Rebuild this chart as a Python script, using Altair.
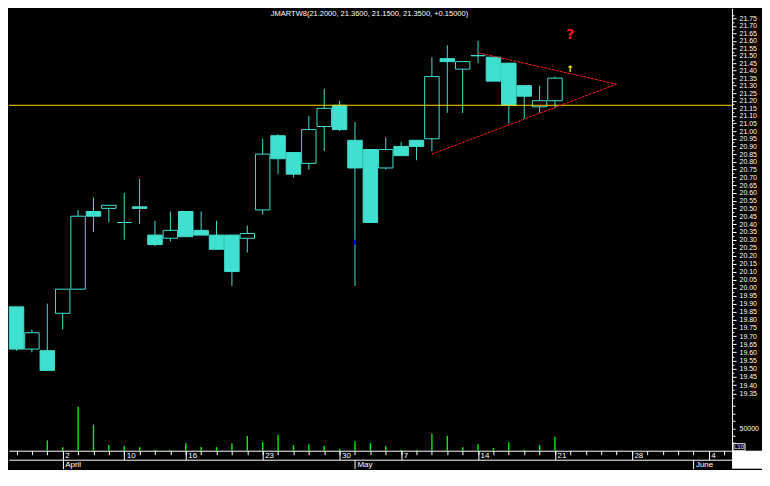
import altair as alt
import pandas as pd

TURQ = "#40e0d0"
GREEN = "#00ee00"
YELLOW = "#ffd700"
RED = "#ff1a1a"
FONT = "Liberation Sans"

title_text = "JMARTW8(21.2000, 21.3600, 21.1500, 21.3500, +0.15000)"

# trading-day index (0 = 28 Mar) and OHLC / volume
day_index = list(range(36))
opens  = [19.88, 19.62, 19.61, 19.84, 19.99, 20.48, 20.50, 20.41, 20.51, 20.33,
          20.31, 20.48, 20.36, 20.33, 20.33, 20.31, 20.49, 20.97, 20.86, 20.79,
          21.03, 21.17, 20.94, 20.88, 20.76, 20.90, 20.94, 20.95, 21.48, 21.41,
          21.50, 21.49, 21.45, 21.30, 21.16, 21.20]
highs  = [19.88, 19.74, 19.90, 19.99, 20.49, 20.57, 20.52, 20.60, 20.69, 20.42,
          20.48, 20.48, 20.48, 20.42, 20.33, 20.39, 20.95, 20.98, 20.86, 21.10,
          21.28, 21.20, 21.06, 20.88, 20.96, 20.93, 20.94, 21.49, 21.57, 21.46,
          21.60, 21.49, 21.45, 21.30, 21.30, 21.36]
lows   = [19.61, 19.60, 19.49, 19.74, 19.99, 20.35, 20.41, 20.30, 20.40, 20.26,
          20.29, 20.32, 20.33, 20.24, 20.01, 20.22, 20.46, 20.72, 20.70, 20.75,
          20.87, 21.00, 20.01, 20.41, 20.75, 20.84, 20.81, 20.87, 21.12, 21.12,
          21.45, 21.33, 21.05, 21.08, 21.12, 21.15]
closes = [19.62, 19.72, 19.49, 19.99, 20.45, 20.45, 20.52, 20.41, 20.50, 20.27,
          20.36, 20.32, 20.33, 20.24, 20.10, 20.34, 20.85, 20.82, 20.72, 21.01,
          21.15, 21.01, 20.76, 20.41, 20.88, 20.84, 20.90, 21.36, 21.46, 21.46,
          21.50, 21.33, 21.17, 21.23, 21.20, 21.35]
volumes = [0, 0, 23000, 8000, 98000, 58000, 12500, 10500, 8000, 2000,
           2000, 16500, 8000, 8000, 16500, 33000, 19000, 35500, 12500, 14500,
           10500, 4000, 21000, 16500, 10500, 2000, 2000, 37500, 33500, 8000,
           14500, 6000, 19000, 2000, 12500, 31000]

# axis labels
week_idx = [3, 7, 11, 16, 21, 25, 30, 35, 40, 45]
week_labels = ["2", "10", "16", "23", "30", "7", "14", "21", "28", "4"]
month_idx = [3, 22, 44]
month_labels = ["April", "May", "June"]
price_labels = [round(19.35 + 0.05 * k, 2) for k in range(49)]
price_minor = [round(19.325 + 0.05 * k, 3) for k in range(50)]
vol_ticks = [0, 16666.67, 33333.33, 50000, 66666.67, 83333.33, 100000]

# annotations
hline_price = 21.17
trend_line = ["upper", "upper", "lower", "lower"]
trend_idx = [30, 39, 27, 39]
trend_price = [21.52, 21.31, 20.85, 21.31]
marker_idx = [22]
marker_lo = [20.27]
marker_hi = [20.30]
qmark_idx, qmark_price = [36], [21.64]
arrow_idx, arrow_price = [36], [21.41]

W = 724
HP = 398
HV = 45
H = HP + HV

df = pd.DataFrame({"idx": day_index, "open": opens, "high": highs, "low": lows,
                   "close": closes, "volume": volumes})

xscale = alt.Scale(domain=[-0.49, 46.51], nice=False, zero=False)


def pscale():
    return alt.Scale(type="log", domain=[19.276, 21.82], nice=False, zero=False,
                     range=[HP, 0])


vscale = alt.Scale(domain=[0, 100000], nice=False, zero=True, range=[H, HP])

axis_major = alt.Axis(orient="right", values=price_labels, format=".2f", tickSize=4,
                      labelPadding=3, labelOverlap=False, labelFlush=False, grid=False,
                      title=None, labelFontSize=7, labelColor="white",
                      tickColor="white", domainColor="white")
axis_minor = alt.Axis(orient="right", values=price_minor, labels=False, tickSize=2,
                      domain=False, grid=False, title=None, tickColor="white")

xnone = alt.X("idx:Q", scale=xscale, axis=None)

wick = alt.Chart(df).mark_rule(color=TURQ, strokeWidth=1).encode(
    x=xnone, y=alt.Y("low:Q", scale=pscale(), axis=axis_major), y2="high:Q")

body = alt.Chart(df).transform_calculate(
    x1="datum.idx - 0.47", x2="datum.idx + 0.47",
    lo="min(datum.open, datum.close)", hi="max(datum.open, datum.close)"
).mark_rect(stroke=TURQ, strokeWidth=1).encode(
    x=alt.X("x1:Q", scale=xscale, axis=None), x2="x2:Q",
    y=alt.Y("lo:Q", scale=pscale(), axis=axis_minor), y2="hi:Q",
    fill=alt.condition("datum.close < datum.open", alt.value(TURQ), alt.value("#000000")))

hline = alt.Chart(pd.DataFrame({"p": [hline_price]})).mark_rule(
    color=YELLOW, strokeWidth=1).encode(y=alt.Y("p:Q", scale=pscale(), axis=None))

trend = alt.Chart(pd.DataFrame({"line": trend_line, "idx": trend_idx, "p": trend_price})
                  ).mark_line(color=RED, strokeWidth=1, strokeDash=[3, 1]).encode(
    x=xnone, y=alt.Y("p:Q", scale=pscale(), axis=None), detail="line:N")

marker = alt.Chart(pd.DataFrame({"idx": marker_idx, "lo": marker_lo, "hi": marker_hi})
                   ).mark_rule(color="#0000ff", strokeWidth=2).encode(
    x=xnone, y=alt.Y("lo:Q", scale=pscale(), axis=None), y2="hi:Q")

qmark = alt.Chart(pd.DataFrame({"idx": qmark_idx, "p": qmark_price, "t": ["?"]})
                  ).mark_text(color=RED, fontSize=14, fontWeight="bold", font="DejaVu Sans"
                              ).encode(x=xnone, y=alt.Y("p:Q", scale=pscale(), axis=None),
                                       text="t:N")

arrow = alt.Chart(pd.DataFrame({"idx": arrow_idx, "p": arrow_price, "t": ["↑"]})
                  ).mark_text(color="#ffff00", fontSize=9, fontWeight="bold", font="DejaVu Sans"
                              ).encode(x=xnone, y=alt.Y("p:Q", scale=pscale(), axis=None),
                                       text="t:N")

title = alt.Chart(pd.DataFrame({"t": [title_text]})).mark_text(
    color="white", fontSize=7.5, font=FONT, align="center", baseline="middle"
).encode(x=alt.value(W / 2 - 1), y=alt.value(6), text="t:N")


def arr_expr(idx_list, labels, n=47):
    arr = [""] * n
    for i, s in zip(idx_list, labels):
        arr[i] = s
    return "[" + ",".join("'" + s + "'" for s in arr) + "][datum.value]"


axis_days = alt.Axis(orient="bottom", values=list(range(47)), labels=False, tickSize=4,
                     grid=False, title=None, tickColor="white", domainColor="white")
axis_weeks = alt.Axis(orient="bottom", values=week_idx, labelExpr=arr_expr(week_idx, week_labels),
                      tickSize=9, labelPadding=-8, labelAlign="left", labelBaseline="top",
                      labelOffset=2, labelFlush=False, labelOverlap=False, domain=False,
                      grid=False, title=None, tickColor="white", labelColor="white",
                      labelFontSize=8)
axis_months = alt.Axis(orient="bottom", offset=9, values=month_idx,
                       labelExpr=arr_expr(month_idx, month_labels),
                       tickSize=9, labelPadding=-8, labelAlign="left", labelBaseline="top",
                       labelOffset=2, labelFlush=False, labelOverlap=False, grid=False,
                       title=None, tickColor="white", labelColor="white",
                       domainColor="white", labelFontSize=8)
axis_vol = alt.Axis(orient="right", values=vol_ticks,
                    labelExpr="datum.value == 50000 ? '50000' : ''", tickSize=3,
                    labelPadding=4, grid=False, title=None, labelOverlap=False,
                    labelFlush=False, tickColor="white", domainColor="white",
                    labelColor="white", labelFontSize=7)

vbars = alt.Chart(df).mark_rule(color=GREEN, strokeWidth=1.4).encode(
    x=alt.X("idx:Q", scale=xscale, axis=axis_days),
    y=alt.Y("volume:Q", scale=vscale, axis=axis_vol), y2=alt.datum(0))

weeks = alt.Chart(pd.DataFrame({"idx": week_idx})).mark_point(opacity=0).encode(
    x=alt.X("idx:Q", scale=xscale, axis=axis_weeks))
months = alt.Chart(pd.DataFrame({"idx": month_idx})).mark_point(opacity=0).encode(
    x=alt.X("idx:Q", scale=xscale, axis=axis_months))

corner_box = alt.Chart(pd.DataFrame({"t": ["box"]})).mark_rect(
    fill="#000000", stroke="white", strokeWidth=1
).encode(x=alt.value(W + 1), x2=alt.value(W + 13), y=alt.value(H - 7), y2=alt.value(H))

corner = alt.Chart(pd.DataFrame({"t": ["L10"]})).mark_text(
    color="white", fontSize=6, font=FONT, align="left", baseline="bottom"
).encode(x=alt.value(W + 2), y=alt.value(H - 1), text="t:N")

white_corner = alt.Chart(pd.DataFrame({"t": ["corner"]})).mark_rect(
    fill="white", stroke=None
).encode(x=alt.value(W), x2=alt.value(W + 30), y=alt.value(H), y2=alt.value(H + 18))

chart = alt.layer(
    wick, body, hline, trend, marker, qmark, arrow, title, vbars, weeks, months,
    white_corner, corner_box, corner
).resolve_scale(y="independent").resolve_axis(x="independent", y="independent").properties(
    width=W, height=H, background="#000000", padding=0
).configure_view(strokeWidth=0).configure_axis(labelFont=FONT, grid=False)

chart.save("out.html", embed_options={"renderer": "svg", "actions": False})
